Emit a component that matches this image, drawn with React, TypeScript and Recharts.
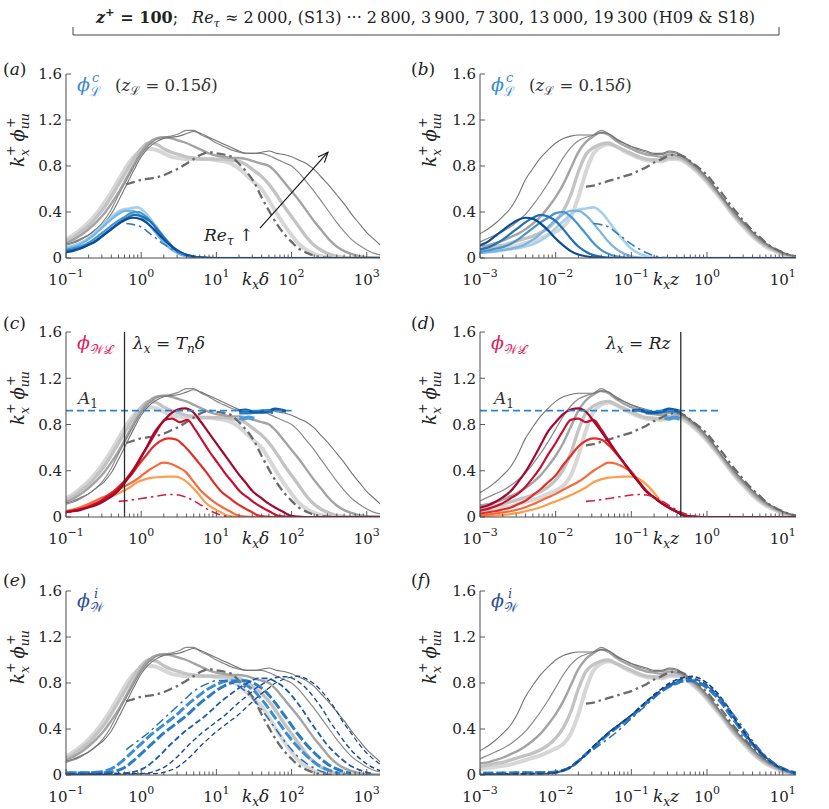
import React from "react";
import { LineChart, Line, XAxis, YAxis, ReferenceLine } from "recharts";

// ---- sample positions (log10 of abscissa) ----
const LOG_KXZ = [
  -3.3, -3.2, -3.1, -3.0, -2.9, -2.8, -2.7, -2.6, -2.5, -2.4, -2.3, -2.2, -2.1, -2.0, -1.9, -1.8,
  -1.7, -1.6, -1.5, -1.4, -1.3, -1.2, -1.1, -1.0, -0.9, -0.8, -0.7, -0.6, -0.5, -0.4, -0.3, -0.2,
  -0.1, 0.0, 0.1, 0.2, 0.3, 0.4, 0.5, 0.6, 0.7, 0.8, 0.9, 1.0, 1.1, 1.2,
];
const LOG_KXD = [
  -1.0, -0.9, -0.8, -0.7, -0.6, -0.5, -0.4, -0.3, -0.2, -0.1, 0.0, 0.1, 0.2, 0.3, 0.4, 0.5, 0.6,
  0.7, 0.8, 0.9, 1.0, 1.1, 1.2, 1.3, 1.4, 1.5, 1.6, 1.7, 1.8, 1.9, 2.0, 2.1, 2.2, 2.3, 2.4, 2.5,
  2.6, 2.7, 2.8, 2.9, 3.0, 3.1, 3.2,
];

const Z_PLUS = 100;
const RE_TAU = [2000, 2800, 3900, 7300, 13000, 19300];

// ---- full spectra (gray), plotted against k_x delta ----
const GRAY_KXD_2000 = [
  null, null, null, null, null, null, null, null, 0.64, 0.66, 0.68, 0.69, 0.7, 0.72, 0.75, 0.78,
  0.82, 0.86, 0.9, 0.92, 0.91, 0.9, 0.88, 0.82, 0.75, 0.66, 0.53, 0.41, 0.3, 0.21, 0.14, 0.08,
  0.045, 0.02, 0.008, 0.003, 0, 0, null, null, null, null, null,
];
const GRAY_KXD_2800 = [
  0.16, 0.2, 0.25, 0.31, 0.38, 0.47, 0.57, 0.68, 0.79, 0.88, 0.93, 0.95, 0.94, 0.91, 0.88, 0.87,
  0.86, 0.86, 0.86, 0.86, 0.85, 0.84, 0.82, 0.78, 0.72, 0.66, 0.6, 0.5, 0.39, 0.29, 0.2, 0.12,
  0.07, 0.035, 0.015, 0.005, 0, 0, 0, 0, 0, 0, 0,
];
const GRAY_KXD_3900 = [
  0.15, 0.18, 0.23, 0.28, 0.35, 0.43, 0.53, 0.64, 0.75, 0.86, 0.95, 1.0, 0.99, 0.95, 0.92, 0.9,
  0.88, 0.87, 0.86, 0.86, 0.86, 0.86, 0.85, 0.84, 0.81, 0.76, 0.71, 0.64, 0.55, 0.45, 0.36, 0.27,
  0.18, 0.11, 0.065, 0.035, 0.015, 0.005, 0, 0, 0, 0, 0,
];
const GRAY_KXD_7300 = [
  0.13, 0.16, 0.2, 0.25, 0.31, 0.38, 0.47, 0.57, 0.69, 0.81, 0.92, 1.0, 1.04, 1.05, 1.04, 1.02,
  1.0, 0.97, 0.94, 0.91, 0.89, 0.88, 0.87, 0.87, 0.86, 0.84, 0.82, 0.8, 0.74, 0.66, 0.58, 0.5,
  0.41, 0.32, 0.24, 0.16, 0.1, 0.06, 0.035, 0.015, 0.006, 0.002, 0,
];
const GRAY_KXD_13000 = [
  0.11, 0.13, 0.16, 0.2, 0.25, 0.32, 0.42, 0.55, 0.67, 0.79, 0.9, 0.98, 1.03, 1.05, 1.06, 1.08,
  1.11, 1.11, 1.07, 1.04, 1.0, 0.97, 0.94, 0.92, 0.91, 0.91, 0.91, 0.89, 0.86, 0.83, 0.8, 0.74,
  0.66, 0.58, 0.49, 0.4, 0.31, 0.23, 0.16, 0.11, 0.07, 0.04, 0.025,
];
const GRAY_KXD_19300 = [
  0.12, 0.14, 0.17, 0.2, 0.25, 0.3, 0.38, 0.5, 0.63, 0.76, 0.88, 0.96, 1.01, 1.04, 1.05, 1.06,
  1.08, 1.1, 1.08, 1.05, 1.02, 0.99, 0.96, 0.93, 0.91, 0.91, 0.92, 0.93, 0.91, 0.9, 0.88, 0.85,
  0.82, 0.77, 0.7, 0.63, 0.55, 0.47, 0.38, 0.3, 0.22, 0.16, 0.1,
];

// ---- full spectra (gray), plotted against k_x z ----
const GRAY_KXZ_2000 = [
  null, null, null, null, null, null, null, null, null, null, null, null, null, null, null, null,
  null, 0.62, 0.63, 0.65, 0.67, 0.69, 0.71, 0.73, 0.76, 0.79, 0.83, 0.86, 0.89, 0.9, 0.88, 0.83,
  0.78, 0.72, 0.64, 0.56, 0.47, 0.39, 0.31, 0.24, 0.18, 0.12, 0.08, 0.05, 0.025, 0.01,
];
const GRAY_KXZ_2800 = [
  0.035, 0.04, 0.045, 0.055, 0.06, 0.07, 0.08, 0.09, 0.11, 0.13, 0.15, 0.17, 0.2, 0.23, 0.27, 0.36,
  0.53, 0.75, 0.91, 0.97, 0.99, 0.97, 0.93, 0.9, 0.87, 0.85, 0.845, 0.84, 0.86, 0.86, 0.84, 0.79,
  0.73, 0.66, 0.58, 0.5, 0.41, 0.33, 0.26, 0.19, 0.135, 0.09, 0.06, 0.03, 0.015, 0.005,
];
const GRAY_KXZ_3900 = [
  0.05, 0.055, 0.065, 0.075, 0.085, 0.1, 0.11, 0.13, 0.15, 0.17, 0.19, 0.22, 0.26, 0.32, 0.41, 0.55,
  0.75, 0.9, 0.96, 0.99, 1.0, 0.97, 0.94, 0.91, 0.88, 0.86, 0.855, 0.85, 0.87, 0.87, 0.85, 0.8,
  0.74, 0.67, 0.59, 0.51, 0.42, 0.34, 0.27, 0.2, 0.14, 0.1, 0.065, 0.035, 0.018, 0.006,
];
const GRAY_KXZ_7300 = [
  0.06, 0.07, 0.08, 0.1, 0.11, 0.13, 0.15, 0.18, 0.21, 0.25, 0.3, 0.36, 0.44, 0.53, 0.64, 0.78,
  0.92, 1.01, 1.06, 1.09, 1.07, 1.02, 0.98, 0.95, 0.92, 0.9, 0.89, 0.88, 0.9, 0.89, 0.86, 0.81,
  0.75, 0.68, 0.6, 0.52, 0.43, 0.35, 0.28, 0.21, 0.15, 0.105, 0.07, 0.04, 0.02, 0.008,
];
const GRAY_KXZ_13000 = [
  0.07, 0.09, 0.11, 0.14, 0.17, 0.2, 0.23, 0.27, 0.32, 0.38, 0.46, 0.55, 0.65, 0.76, 0.87, 0.96,
  1.02, 1.05, 1.07, 1.11, 1.08, 1.04, 1.0, 0.97, 0.94, 0.92, 0.9, 0.9, 0.92, 0.91, 0.87, 0.82,
  0.76, 0.69, 0.61, 0.52, 0.44, 0.36, 0.29, 0.22, 0.16, 0.11, 0.075, 0.045, 0.022, 0.01,
];
const GRAY_KXZ_19300 = [
  0.1, 0.13, 0.17, 0.21, 0.25, 0.3, 0.36, 0.43, 0.54, 0.68, 0.78, 0.87, 0.94, 1.0, 1.04, 1.06,
  1.07, 1.07, 1.07, 1.09, 1.08, 1.03, 1.0, 0.97, 0.95, 0.93, 0.91, 0.91, 0.93, 0.92, 0.88, 0.83,
  0.77, 0.7, 0.62, 0.53, 0.45, 0.37, 0.3, 0.23, 0.17, 0.12, 0.08, 0.05, 0.025, 0.01,
];

// ---- phi_L^c (large-scale, coherent part), on the k_x z grid ----
const BLUE_L_2000 = [
  null, null, null, null, null, null, null, null, null, null, null, null, null, null, null, null,
  null, null, 0.3, 0.29, 0.27, 0.22, 0.17, 0.12, 0.08, 0.045, 0.02, 0.008, 0.002, null, null, null,
  null, null, null, null, null, null, null, null, null, null, null, null, null, null,
];
const BLUE_L_2800 = [
  0.03, 0.035, 0.04, 0.045, 0.05, 0.055, 0.065, 0.075, 0.085, 0.1, 0.12, 0.15, 0.2, 0.26, 0.32, 0.38,
  0.42, 0.43, 0.44, 0.4, 0.32, 0.23, 0.15, 0.08, 0.04, 0.015, 0.005, 0, 0, 0, 0, 0,
  0, 0, 0, 0, 0, 0, 0, 0, 0, 0, 0, 0, 0, 0,
];
const BLUE_L_3900 = [
  0.03, 0.035, 0.04, 0.045, 0.05, 0.06, 0.07, 0.08, 0.095, 0.12, 0.16, 0.21, 0.27, 0.33, 0.38, 0.41,
  0.41, 0.37, 0.3, 0.22, 0.14, 0.08, 0.04, 0.015, 0.005, 0, 0, 0, 0, 0, 0, 0,
  0, 0, 0, 0, 0, 0, 0, 0, 0, 0, 0, 0, 0, 0,
];
const BLUE_L_7300 = [
  0.035, 0.04, 0.045, 0.055, 0.065, 0.08, 0.095, 0.12, 0.16, 0.21, 0.26, 0.31, 0.35, 0.39, 0.4, 0.36,
  0.29, 0.21, 0.13, 0.07, 0.035, 0.015, 0.005, 0, 0, 0, 0, 0, 0, 0, 0, 0,
  0, 0, 0, 0, 0, 0, 0, 0, 0, 0, 0, 0, 0, 0,
];
const BLUE_L_13000 = [
  0.045, 0.05, 0.06, 0.075, 0.09, 0.12, 0.16, 0.21, 0.26, 0.31, 0.35, 0.375, 0.36, 0.32, 0.25, 0.17,
  0.1, 0.055, 0.025, 0.01, 0.003, 0, 0, 0, 0, 0, 0, 0, 0, 0, 0, 0,
  0, 0, 0, 0, 0, 0, 0, 0, 0, 0, 0, 0, 0, 0,
];
const BLUE_L_19300 = [
  0.05, 0.06, 0.08, 0.11, 0.14, 0.19, 0.24, 0.29, 0.33, 0.35, 0.34, 0.3, 0.24, 0.17, 0.11, 0.06,
  0.03, 0.015, 0.005, 0.002, 0, 0, 0, 0, 0, 0, 0, 0, 0, 0, 0, 0,
  0, 0, 0, 0, 0, 0, 0, 0, 0, 0, 0, 0, 0, 0,
];

// ---- phi_WL (wall-attached), on the k_x z grid ----
const RED_2000 = [
  null, null, null, null, null, null, null, null, null, null, null, null, null, null, null, null,
  null, 0.135, 0.14, 0.15, 0.16, 0.17, 0.18, 0.19, 0.195, 0.19, 0.17, 0.14, 0.1, 0.06, 0.03, 0.01,
  0.002, null, null, null, null, null, null, null, null, null, null, null, null, null,
];
const RED_2800 = [
  0.005, 0.006, 0.007, 0.008, 0.01, 0.013, 0.018, 0.025, 0.035, 0.05, 0.065, 0.085, 0.11, 0.135, 0.16, 0.19,
  0.22, 0.255, 0.3, 0.325, 0.34, 0.345, 0.35, 0.35, 0.33, 0.28, 0.21, 0.13, 0.08, 0.045, 0.012, 0.003,
  0, 0, 0, 0, 0, 0, 0, 0, 0, 0, 0, 0, 0, 0,
];
const RED_3900 = [
  0.01, 0.012, 0.014, 0.016, 0.02, 0.03, 0.04, 0.05, 0.065, 0.085, 0.11, 0.14, 0.17, 0.2, 0.235, 0.27,
  0.305, 0.35, 0.4, 0.44, 0.47, 0.46, 0.43, 0.39, 0.31, 0.23, 0.17, 0.12, 0.08, 0.045, 0.012, 0.003,
  0, 0, 0, 0, 0, 0, 0, 0, 0, 0, 0, 0, 0, 0,
];
const RED_7300 = [
  0.02, 0.022, 0.026, 0.03, 0.04, 0.05, 0.065, 0.08, 0.11, 0.14, 0.19, 0.24, 0.3, 0.36, 0.45, 0.53,
  0.61, 0.66, 0.68, 0.67, 0.62, 0.55, 0.47, 0.39, 0.3, 0.22, 0.17, 0.12, 0.08, 0.045, 0.012, 0.003,
  0, 0, 0, 0, 0, 0, 0, 0, 0, 0, 0, 0, 0, 0,
];
const RED_13000 = [
  0.03, 0.035, 0.045, 0.055, 0.07, 0.09, 0.12, 0.16, 0.2, 0.26, 0.34, 0.43, 0.54, 0.64, 0.75, 0.84,
  0.85, 0.82, 0.84, 0.76, 0.66, 0.56, 0.47, 0.38, 0.3, 0.22, 0.17, 0.12, 0.08, 0.045, 0.012, 0.003,
  0, 0, 0, 0, 0, 0, 0, 0, 0, 0, 0, 0, 0, 0,
];
const RED_19300 = [
  0.04, 0.05, 0.06, 0.08, 0.1, 0.13, 0.17, 0.22, 0.3, 0.39, 0.5, 0.62, 0.74, 0.82, 0.89, 0.93,
  0.94, 0.91, 0.83, 0.74, 0.65, 0.56, 0.47, 0.38, 0.3, 0.22, 0.17, 0.12, 0.08, 0.045, 0.012, 0.003,
  0, 0, 0, 0, 0, 0, 0, 0, 0, 0, 0, 0, 0, 0,
];

// ---- phi_W^i (wall-incoherent), on the k_x z grid ----
const WBLUE_2000 = [
  null, null, null, null, null, null, null, null, null, null, null, null, null, null, null, null,
  null, null, 0.22, 0.27, 0.32, 0.37, 0.43, 0.49, 0.55, 0.61, 0.67, 0.73, 0.77, 0.8, 0.82, 0.82,
  0.8, 0.77, 0.72, 0.65, 0.57, 0.48, 0.39, 0.3, 0.22, 0.15, 0.1, 0.06, 0.03, 0.012,
];
const WBLUE_2800 = [
  0.015, 0.015, 0.016, 0.016, 0.017, 0.017, 0.018, 0.018, 0.019, 0.019, 0.02, 0.02, 0.021, 0.026, 0.04, 0.07,
  0.12, 0.18, 0.24, 0.3, 0.36, 0.41, 0.46, 0.51, 0.57, 0.63, 0.68, 0.73, 0.77, 0.8, 0.82, 0.82,
  0.8, 0.76, 0.7, 0.62, 0.53, 0.44, 0.35, 0.27, 0.2, 0.14, 0.09, 0.055, 0.03, 0.012,
];
const WBLUE_3900 = [
  0.01, 0.01, 0.01, 0.012, 0.012, 0.013, 0.014, 0.015, 0.016, 0.017, 0.018, 0.019, 0.02, 0.025, 0.04, 0.07,
  0.12, 0.18, 0.24, 0.3, 0.36, 0.41, 0.46, 0.51, 0.57, 0.63, 0.68, 0.73, 0.77, 0.8, 0.82, 0.82,
  0.8, 0.76, 0.7, 0.62, 0.53, 0.44, 0.35, 0.27, 0.2, 0.14, 0.09, 0.055, 0.03, 0.012,
];
const WBLUE_7300 = [
  0.006, 0.006, 0.006, 0.007, 0.007, 0.008, 0.008, 0.009, 0.01, 0.011, 0.012, 0.014, 0.016, 0.022, 0.04, 0.07,
  0.12, 0.18, 0.25, 0.31, 0.37, 0.42, 0.47, 0.52, 0.58, 0.64, 0.69, 0.74, 0.78, 0.82, 0.84, 0.84,
  0.82, 0.78, 0.72, 0.64, 0.55, 0.45, 0.36, 0.27, 0.2, 0.14, 0.09, 0.055, 0.03, 0.012,
];
const WBLUE_13000 = [
  0.005, 0.005, 0.005, 0.005, 0.005, 0.006, 0.006, 0.007, 0.008, 0.009, 0.01, 0.011, 0.013, 0.02, 0.04, 0.07,
  0.12, 0.18, 0.25, 0.31, 0.37, 0.42, 0.47, 0.52, 0.58, 0.64, 0.69, 0.75, 0.79, 0.83, 0.85, 0.855,
  0.84, 0.8, 0.74, 0.66, 0.57, 0.46, 0.37, 0.28, 0.2, 0.14, 0.09, 0.055, 0.03, 0.012,
];
const WBLUE_19300 = [
  0.005, 0.005, 0.005, 0.005, 0.005, 0.005, 0.006, 0.006, 0.007, 0.008, 0.009, 0.01, 0.012, 0.02, 0.04, 0.07,
  0.12, 0.18, 0.25, 0.31, 0.37, 0.42, 0.47, 0.52, 0.58, 0.64, 0.7, 0.75, 0.8, 0.83, 0.85, 0.86,
  0.84, 0.8, 0.74, 0.66, 0.57, 0.46, 0.37, 0.28, 0.2, 0.14, 0.09, 0.055, 0.03, 0.012,
];

// ---- segments of the spectra lying on the A1 plateau ----
const A1_LOGKXZ_19300 = [-0.99, -0.9, -0.8, -0.7, -0.6, -0.5, -0.42, -0.36];
const A1_VAL_19300 = [0.92, 0.925, 0.91, 0.905, 0.915, 0.935, 0.925, 0.915];
const A1_LOGKXZ_13000 = [-0.81, -0.7, -0.6, -0.5, -0.42, -0.36];
const A1_VAL_13000 = [0.9, 0.9, 0.905, 0.92, 0.915, 0.9];
const A1_LOGKXZ_7300 = [-0.56, -0.5, -0.44, -0.36];
const A1_VAL_7300 = [0.86, 0.85, 0.86, 0.85];

const A1_LEVEL = 0.92;
const A1_SPAN_KXD = [0.1, 100];
const A1_SPAN_KXZ = [0.001, 1.5];
const CUT_TN_KXD = 0.6;
const CUT_R_KXZ = 0.45;
const ARROW_FROM = { x: 38, y: 0.26 };
const ARROW_TO = { x: 305, y: 0.92 };

const Y_TICKS = [0, 0.4, 0.8, 1.2, 1.6];
const MAJORS_KXD = [0.1, 1, 10, 100, 1000];
const MAJORS_KXZ = [0.001, 0.01, 0.1, 1, 10];
const MINOR_STEPS = [2, 3, 4, 5, 6, 7, 8, 9];

// ---- styles ----
const SERIF = "'DejaVu Serif', serif";
const TXT: React.CSSProperties = { fontFamily: SERIF };
const INK = "#222";
const AXIS = "#4a4a4a";
const DASHDOT = "9 4 2.5 4";

type Style = { stroke: string; width: number; dash?: string };
const GRAY_STYLE: Style[] = [
  { stroke: "#6a6a6a", width: 2.3, dash: DASHDOT },
  { stroke: "#d7d7d7", width: 4 },
  { stroke: "#c3c3c3", width: 3.3 },
  { stroke: "#a4a4a4", width: 2.4 },
  { stroke: "#8a8a8a", width: 1.2 },
  { stroke: "#747474", width: 1.1 },
];
const BLUE_L_STYLE: Style[] = [
  { stroke: "#2f7cc3", width: 1.6, dash: DASHDOT },
  { stroke: "#a7d0ec", width: 2.6 },
  { stroke: "#79b5df", width: 2.2 },
  { stroke: "#4594cf", width: 2.2 },
  { stroke: "#2171b7", width: 2.2 },
  { stroke: "#0b4c96", width: 2.2 },
];
const RED_STYLE: Style[] = [
  { stroke: "#d21f49", width: 1.6, dash: DASHDOT },
  { stroke: "#fd9d4e", width: 2.2 },
  { stroke: "#f7693c", width: 2.2 },
  { stroke: "#e52d27", width: 2.2 },
  { stroke: "#c81130", width: 2.2 },
  { stroke: "#a3092c", width: 2.2 },
];
const WBLUE_STYLE: Style[] = [
  { stroke: "#2d6db5", width: 1.5, dash: DASHDOT },
  { stroke: "#3b8fd0", width: 3, dash: "10 3" },
  { stroke: "#2b7dc3", width: 3, dash: "10 3" },
  { stroke: "#1d5ba6", width: 1.8, dash: "6 3" },
  { stroke: "#1a4a8e", width: 1.4, dash: "5 3" },
  { stroke: "#163f7e", width: 1.2, dash: "5 3" },
];
const DRAW_ORDER = [1, 2, 3, 4, 5, 0];

const GRAY_KXD = [GRAY_KXD_2000, GRAY_KXD_2800, GRAY_KXD_3900, GRAY_KXD_7300, GRAY_KXD_13000, GRAY_KXD_19300];
const GRAY_KXZ = [GRAY_KXZ_2000, GRAY_KXZ_2800, GRAY_KXZ_3900, GRAY_KXZ_7300, GRAY_KXZ_13000, GRAY_KXZ_19300];
const BLUE_L = [BLUE_L_2000, BLUE_L_2800, BLUE_L_3900, BLUE_L_7300, BLUE_L_13000, BLUE_L_19300];
const RED = [RED_2000, RED_2800, RED_3900, RED_7300, RED_13000, RED_19300];
const WBLUE = [WBLUE_2000, WBLUE_2800, WBLUE_3900, WBLUE_7300, WBLUE_13000, WBLUE_19300];

type Pt = { x: number; y: number };
type Curve = Style & { id: string; pts: Pt[] };

// k_x delta = k_x z * (delta / z) = k_x z * Re_tau / z+
const outerShift = (re: number) => Math.log10(re / Z_PLUS);

const toPoints = (logx: number[], vals: (number | null)[], shift = 0): Pt[] => {
  const out: Pt[] = [];
  logx.forEach((lx, i) => {
    const v = vals[i];
    if (v !== null && v !== undefined) out.push({ x: Math.pow(10, lx + shift), y: v });
  });
  return out;
};

const grayCurves = (outer: boolean): Curve[] =>
  DRAW_ORDER.map((i) => ({
    id: `gray${i}`,
    pts: outer ? toPoints(LOG_KXD, GRAY_KXD[i]) : toPoints(LOG_KXZ, GRAY_KXZ[i]),
    ...GRAY_STYLE[i],
  }));

const familyCurves = (fam: (number | null)[][], style: Style[], outer: boolean, tag: string): Curve[] =>
  DRAW_ORDER.map((i) => ({
    id: `${tag}${i}`,
    pts: toPoints(LOG_KXZ, fam[i], outer ? outerShift(RE_TAU[i]) : 0),
    ...style[i],
  }));

const a1Curves = (outer: boolean): Curve[] => [
  { id: "a1_7300", pts: toPoints(A1_LOGKXZ_7300, A1_VAL_7300, outer ? outerShift(7300) : 0), stroke: "#4f9ad6", width: 4 },
  { id: "a1_13000", pts: toPoints(A1_LOGKXZ_13000, A1_VAL_13000, outer ? outerShift(13000) : 0), stroke: "#2a7cc0", width: 3 },
  { id: "a1_19300", pts: toPoints(A1_LOGKXZ_19300, A1_VAL_19300, outer ? outerShift(19300) : 0), stroke: "#0e5ba8", width: 3 },
];

const buildTicks = (majors: number[], max: number) =>
  majors.flatMap((m) => [m, ...MINOR_STEPS.map((k) => k * m).filter((v) => v < max)]);

const XTick = (props: any) => {
  const { x, y, payload } = props;
  const v = payload.value as number;
  const lg = Math.log10(v);
  const e = Math.round(lg);
  const major = Math.abs(lg - e) < 1e-6;
  return (
    <g>
      <line x1={x} x2={x} y1={y} y2={y - (major ? 6 : 3.5)} stroke={AXIS} strokeWidth={0.9} />
      {major && (
        <text x={x} y={y + 27} textAnchor="middle" style={TXT} fontSize={15} fill={INK}>
          10
          <tspan dy={-8} fontSize={11}>
            {e < 0 ? `\u2212${-e}` : `${e}`}
          </tspan>
        </text>
      )}
    </g>
  );
};

const YTick = (props: any) => {
  const { x, y, payload } = props;
  const v = payload.value as number;
  return (
    <g>
      <line x1={x} x2={x + 5} y1={y} y2={y} stroke={AXIS} strokeWidth={0.9} />
      <text x={x - 4} y={y} dy="0.36em" textAnchor="end" style={TXT} fontSize={15} fill={INK}>
        {v === 0 ? "0" : v.toFixed(1)}
      </text>
    </g>
  );
};

const ArrowShape = (p: any) => {
  const { x1, y1, x2, y2 } = p;
  const a = Math.atan2(y2 - y1, x2 - x1);
  const L = 11;
  const s = 0.4;
  const d = `M${x2 - L * Math.cos(a - s)},${y2 - L * Math.sin(a - s)} L${x2},${y2} L${x2 - L * Math.cos(a + s)},${y2 - L * Math.sin(a + s)}`;
  return (
    <g>
      <line x1={x1} y1={y1} x2={x2} y2={y2} stroke="#111" strokeWidth={1.1} />
      <path d={d} fill="none" stroke="#111" strokeWidth={1.1} />
    </g>
  );
};

const COLS = {
  outer: { x0: 66, x1: 380, domain: [0.1, 1500] as [number, number], ticks: buildTicks(MAJORS_KXD, 1500) },
  inner: { x0: 480, x1: 796, domain: [0.001, 15] as [number, number], ticks: buildTicks(MAJORS_KXZ, 15) },
};
const ROWS = [
  { y0: 74, y1: 258 },
  { y0: 332, y1: 517 },
  { y0: 591, y1: 775 },
];

type PanelProps = {
  col: typeof COLS.outer;
  row: { y0: number; y1: number };
  curves: Curve[];
  children?: React.ReactNode;
};

function Panel({ col, row, curves, children }: PanelProps) {
  const padL = 40;
  const padR = 16;
  const padT = 10;
  const axisH = 32;
  const w = col.x1 - col.x0 + padL + padR;
  const h = row.y1 - row.y0 + padT + axisH;
  return (
    <div style={{ position: "absolute", left: col.x0 - padL, top: row.y0 - padT }}>
      <LineChart width={w} height={h} margin={{ top: padT, right: padR, bottom: 0, left: 0 }}>
        <XAxis
          dataKey="x"
          type="number"
          scale="log"
          domain={col.domain}
          allowDataOverflow
          ticks={col.ticks}
          interval={0}
          tickSize={0}
          tickMargin={0}
          height={axisH}
          tick={(p: any) => <XTick {...p} />}
          axisLine={{ stroke: AXIS, strokeWidth: 1 }}
        />
        <YAxis
          type="number"
          domain={[0, 1.6]}
          ticks={Y_TICKS}
          interval={0}
          allowDataOverflow
          width={padL}
          tickSize={0}
          tickMargin={0}
          tick={(p: any) => <YTick {...p} />}
          axisLine={{ stroke: AXIS, strokeWidth: 1 }}
        />
        {curves.map((c) => (
          <Line
            key={c.id}
            data={c.pts}
            dataKey="y"
            type="monotone"
            stroke={c.stroke}
            strokeWidth={c.width}
            strokeDasharray={c.dash}
            dot={false}
            activeDot={false}
            isAnimationActive={false}
          />
        ))}
        {children}
      </LineChart>
    </div>
  );
}

// ---- text helpers ----
const PHI = "\u03d5";

const Tag = ({ x, y, t }: { x: number; y: number; t: string }) => (
  <text x={x} y={y} style={TXT} fontSize={17} fill={INK}>
    (<tspan fontStyle="italic">{t}</tspan>)
  </text>
);

const YLabel = ({ cx, cy }: { cx: number; cy: number }) => (
  <text transform={`translate(${cx},${cy}) rotate(-90)`} textAnchor="middle" style={TXT} fontSize={18} fill={INK}>
    <tspan fontStyle="italic">k</tspan>
    <tspan fontSize={12.5} fontStyle="italic" dy={5}>x</tspan>
    <tspan fontSize={12.5} dx={-7} dy={-14}>+</tspan>
    <tspan fontStyle="italic" dx={4} dy={9}>{PHI}</tspan>
    <tspan fontSize={12.5} fontStyle="italic" dy={5}>uu</tspan>
    <tspan fontSize={12.5} dx={-15} dy={-14}>+</tspan>
  </text>
);

const XLabel = ({ x, y, v }: { x: number; y: number; v: string }) => (
  <text x={x} y={y} style={TXT} fontSize={17} fill={INK}>
    <tspan fontStyle="italic">k</tspan>
    <tspan fontSize={12} fontStyle="italic" dy={4}>x</tspan>
    <tspan fontStyle="italic" dy={-4}>{v}</tspan>
  </text>
);

const PhiLc = ({ x, y }: { x: number; y: number }) => (
  <text x={x} y={y} style={TXT} fontSize={19} fill="#3a8cd2">
    <tspan fontStyle="italic">{PHI}</tspan>
    <tspan fontSize={13} dy={5}>ℒ</tspan>
    <tspan fontSize={13} fontStyle="italic" dx={-9} dy={-14}>c</tspan>
  </text>
);

const ZL = ({ x, y }: { x: number; y: number }) => (
  <text x={x} y={y} style={TXT} fontSize={16.5} fill="#333">
    (<tspan fontStyle="italic">z</tspan>
    <tspan fontSize={12} dy={4}>ℒ</tspan>
    <tspan dy={-4}> = 0.15</tspan>
    <tspan fontStyle="italic">δ</tspan>)
  </text>
);

const PhiWL = ({ x, y }: { x: number; y: number }) => (
  <text x={x} y={y} style={TXT} fontSize={19} fill="#d6285e">
    <tspan fontStyle="italic">{PHI}</tspan>
    <tspan fontSize={13} dy={5}>𝒲ℒ</tspan>
  </text>
);

const PhiWi = ({ x, y }: { x: number; y: number }) => (
  <text x={x} y={y} style={TXT} fontSize={19} fill="#2f4f98">
    <tspan fontStyle="italic">{PHI}</tspan>
    <tspan fontSize={13} dy={5}>𝒲</tspan>
    <tspan fontSize={13} fontStyle="italic" dx={-10} dy={-14}>i</tspan>
  </text>
);

const A1Text = ({ x, y }: { x: number; y: number }) => (
  <text x={x} y={y} style={TXT} fontSize={17} fill="#333">
    <tspan fontStyle="italic">A</tspan>
    <tspan fontSize={12} dy={4}>1</tspan>
  </text>
);

export default function App() {
  const { outer, inner } = COLS;
  return (
    <div style={{ position: "absolute", left: 0, top: 0, width: 829, height: 809, background: "#fff", overflow: "hidden" }}>
      {/* (a) */}
      <Panel col={outer} row={ROWS[0]} curves={[...grayCurves(true), ...familyCurves(BLUE_L, BLUE_L_STYLE, true, "bl")]}>
        <ReferenceLine segment={[ARROW_FROM, ARROW_TO]} shape={ArrowShape} ifOverflow="visible" />
      </Panel>
      {/* (b) */}
      <Panel col={inner} row={ROWS[0]} curves={[...grayCurves(false), ...familyCurves(BLUE_L, BLUE_L_STYLE, false, "bl")]} />
      {/* (c) */}
      <Panel col={outer} row={ROWS[1]} curves={[...grayCurves(true), ...a1Curves(true), ...familyCurves(RED, RED_STYLE, true, "rd")]}>
        <ReferenceLine
          segment={[{ x: A1_SPAN_KXD[0], y: A1_LEVEL }, { x: A1_SPAN_KXD[1], y: A1_LEVEL }]}
          stroke="#2a86d0"
          strokeWidth={1.6}
          strokeDasharray="7 4"
        />
        <ReferenceLine x={CUT_TN_KXD} stroke="#2b2b2b" strokeWidth={1.3} />
      </Panel>
      {/* (d) */}
      <Panel col={inner} row={ROWS[1]} curves={[...grayCurves(false), ...a1Curves(false), ...familyCurves(RED, RED_STYLE, false, "rd")]}>
        <ReferenceLine
          segment={[{ x: A1_SPAN_KXZ[0], y: A1_LEVEL }, { x: A1_SPAN_KXZ[1], y: A1_LEVEL }]}
          stroke="#2a86d0"
          strokeWidth={1.6}
          strokeDasharray="7 4"
        />
        <ReferenceLine x={CUT_R_KXZ} stroke="#2b2b2b" strokeWidth={1.3} />
      </Panel>
      {/* (e) */}
      <Panel col={outer} row={ROWS[2]} curves={[...grayCurves(true), ...familyCurves(WBLUE, WBLUE_STYLE, true, "wb")]} />
      {/* (f) */}
      <Panel col={inner} row={ROWS[2]} curves={[...grayCurves(false), ...familyCurves(WBLUE, WBLUE_STYLE, false, "wb")]} />

      <svg width={829} height={809} style={{ position: "absolute", left: 0, top: 0, pointerEvents: "none" }}>
        {/* heading */}
        <text x={96} y={23} style={TXT} fontSize={16} fill={INK}>
          <tspan fontWeight="bold" fontStyle="italic">z</tspan>
          <tspan fontWeight="bold" fontSize={11.5} dy={-7}>+</tspan>
          <tspan fontWeight="bold" dy={7}> = 100</tspan>
          <tspan>;</tspan>
          <tspan dx={14} fontStyle="italic">Re</tspan>
          <tspan fontSize={11.5} fontStyle="italic" dy={4}>τ</tspan>
          <tspan dy={-4}>{" \u2248 2\u2009000, (S13)  \u00b7\u00b7\u00b7  2\u2009800, 3\u2009900, 7\u2009300, 13\u2009000, 19\u2009300 (H09 & S18)"}</tspan>
        </text>
        <path d="M73 27 L73 35 L779 35 L779 27" fill="none" stroke="#444" strokeWidth={1} />

        {/* panel tags */}
        <Tag x={3} y={75} t="a" />
        <Tag x={411} y={75} t="b" />
        <Tag x={3} y={329} t="c" />
        <Tag x={411} y={329} t="d" />
        <Tag x={3} y={586} t="e" />
        <Tag x={411} y={586} t="f" />

        {/* axis titles */}
        {ROWS.map((r, i) => (
          <React.Fragment key={i}>
            <YLabel cx={24} cy={r.y0 + 66} />
            <YLabel cx={436} cy={r.y0 + 66} />
            <XLabel x={242} y={r.y1 + 27} v="δ" />
            <XLabel x={653} y={r.y1 + 27} v="z" />
          </React.Fragment>
        ))}

        {/* in-panel annotations */}
        <PhiLc x={77} y={91} />
        <ZL x={115} y={91} />
        <PhiLc x={491} y={91} />
        <ZL x={529} y={91} />
        <text x={204} y={241} style={TXT} fontSize={17} fill={INK}>
          <tspan fontStyle="italic">Re</tspan>
          <tspan fontSize={12} fontStyle="italic" dy={4}>τ</tspan>
          <tspan dy={-4}> ↑</tspan>
        </text>

        <PhiWL x={77} y={349} />
        <text x={133} y={349} style={TXT} fontSize={17} fill={INK}>
          <tspan fontStyle="italic">λ</tspan>
          <tspan fontSize={12} fontStyle="italic" dy={4}>x</tspan>
          <tspan dy={-4}> = </tspan>
          <tspan fontStyle="italic">T</tspan>
          <tspan fontSize={12} fontStyle="italic" dy={4}>n</tspan>
          <tspan fontStyle="italic" dy={-4}>δ</tspan>
        </text>
        <A1Text x={78} y={404} />

        <PhiWL x={491} y={349} />
        <text x={606} y={349} style={TXT} fontSize={17} fill={INK}>
          <tspan fontStyle="italic">λ</tspan>
          <tspan fontSize={12} fontStyle="italic" dy={4}>x</tspan>
          <tspan dy={-4}> = </tspan>
          <tspan fontStyle="italic">Rz</tspan>
        </text>
        <A1Text x={494} y={404} />

        <PhiWi x={77} y={607} />
        <PhiWi x={491} y={607} />
      </svg>
    </div>
  );
}
